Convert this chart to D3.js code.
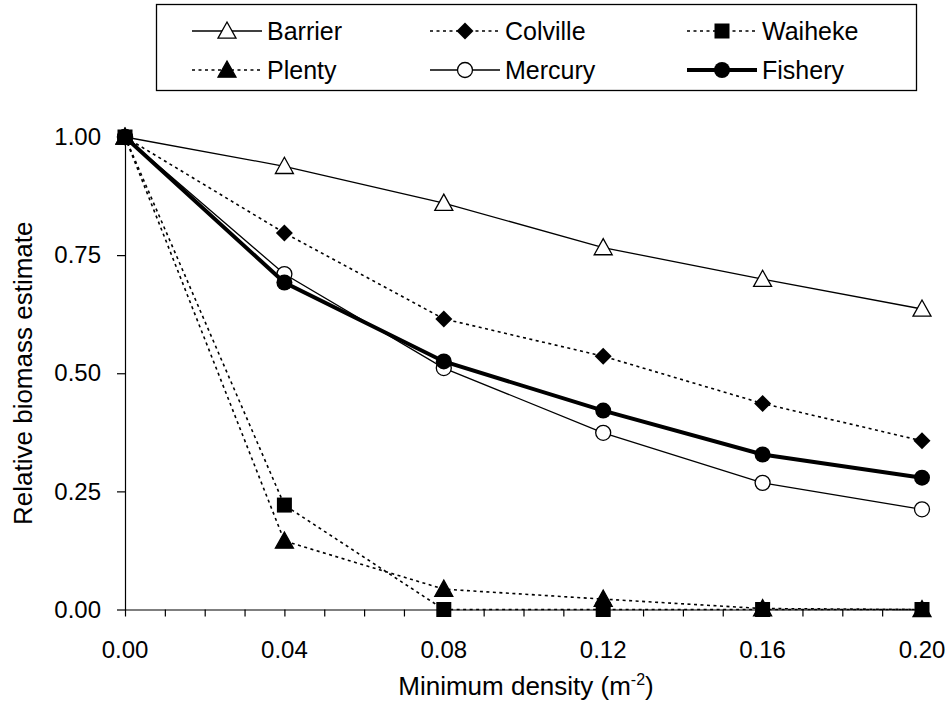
<!DOCTYPE html>
<html lang="en">
<head>
<meta charset="UTF-8">
<title>Relative biomass estimate vs minimum density</title>
<script src="https://d3js.org/d3.v7.min.js"></script>
<style>
  body { margin: 0; background: #fff; font-family: "Liberation Sans", Arial, sans-serif; }
  svg text { font-family: "Liberation Sans", Arial, sans-serif; fill: #000; }
</style>
</head>
<body>
<div id="chart"></div>
<script>
  const densities = [0.00, 0.04, 0.08, 0.12, 0.16, 0.20];
  const barrier  = [1.00, 0.938, 0.860, 0.766, 0.699, 0.636];
  const colville = [1.00, 0.797, 0.615, 0.536, 0.436, 0.357];
  const waiheke  = [1.00, 0.221, 0.000, 0.000, 0.000, 0.000];
  const plenty   = [1.00, 0.145, 0.043, 0.022, 0.002, 0.000];
  const mercury  = [1.00, 0.710, 0.511, 0.374, 0.268, 0.212];
  const fishery  = [1.00, 0.692, 0.525, 0.421, 0.328, 0.279];
  const yTicks = [0, 0.25, 0.5, 0.75, 1];
  const xTicks = [0, 0.04, 0.08, 0.12, 0.16, 0.20];

  const width = 952, height = 706;
  const x = d3.scaleLinear().domain([0, 0.2]).range([125, 922]);
  const y = d3.scaleLinear().domain([0, 1]).range([609.5, 137]);

  const svg = d3.select("#chart").append("svg")
    .attr("width", width).attr("height", height);

  // series: name, values, line style, marker
  const series = [
    { name: "Barrier",  values: barrier,  width: 1.3, dash: null,    marker: "triOpen" },
    { name: "Colville", values: colville, width: 1.6, dash: "3,3.5", marker: "diamond" },
    { name: "Mercury",  values: mercury,  width: 1.3, dash: null,    marker: "circOpen" },
    { name: "Fishery",  values: fishery,  width: 4,   dash: null,    marker: "circFill" },
    { name: "Plenty",   values: plenty,   width: 1.6, dash: "3,3.5", marker: "triFill" },
    { name: "Waiheke",  values: waiheke,  width: 1.6, dash: "3,3.5", marker: "square" }
  ];

  function drawMarker(g, type, cx, cy) {
    if (type === "triOpen" || type === "triFill") {
      const s = 9;
      g.append("path")
        .attr("d", `M${cx},${cy - s}L${cx + s},${cy + s * 0.8}L${cx - s},${cy + s * 0.8}Z`)
        .attr("fill", type === "triOpen" ? "#fff" : "#000")
        .attr("stroke", "#000").attr("stroke-width", 1.3);
    } else if (type === "diamond") {
      const s = 8.5;
      g.append("path")
        .attr("d", `M${cx},${cy - s}L${cx + s},${cy}L${cx},${cy + s}L${cx - s},${cy}Z`)
        .attr("fill", "#000");
    } else if (type === "square") {
      g.append("rect").attr("x", cx - 7.5).attr("y", cy - 7.5)
        .attr("width", 15).attr("height", 15).attr("fill", "#000");
    } else if (type === "circOpen") {
      g.append("circle").attr("cx", cx).attr("cy", cy).attr("r", 7.5)
        .attr("fill", "#fff").attr("stroke", "#000").attr("stroke-width", 1.3);
    } else if (type === "circFill") {
      g.append("circle").attr("cx", cx).attr("cy", cy).attr("r", 8)
        .attr("fill", "#000");
    }
  }

  // axes
  const yAxis = d3.axisLeft(y).tickValues(yTicks).tickFormat(d3.format(".2f"))
    .tickSizeInner(8).tickSizeOuter(0).tickPadding(16);
  const gy = svg.append("g").attr("transform", `translate(${x(0)},0)`).call(yAxis);

  const xAxis = d3.axisBottom(x).tickValues(d3.range(0, 21).map(i => i / 100))
    .tickFormat("").tickSizeInner(7).tickSizeOuter(0);
  const gx = svg.append("g").attr("transform", `translate(0,${y(0)})`).call(xAxis);

  svg.append("g").selectAll("text").data(xTicks).join("text")
    .attr("x", d => x(d)).attr("y", y(0) + 48)
    .attr("text-anchor", "middle").attr("font-size", 24)
    .text(d => d3.format(".2f")(d));

  [gx, gy].forEach(g => {
    g.selectAll("path, line").attr("stroke", "#000").attr("stroke-width", 1.2);
    g.selectAll("text").attr("font-size", 24).attr("fill", "#000")
      .style("font-family", "'Liberation Sans', Arial, sans-serif");
  });

  // axis titles
  svg.append("text")
    .attr("transform", `translate(32,${(y(0) + y(1)) / 2}) rotate(-90)`)
    .attr("text-anchor", "middle").attr("font-size", 26)
    .text("Relative biomass estimate");

  const xt = svg.append("text").attr("x", 526).attr("y", 695)
    .attr("text-anchor", "middle").attr("font-size", 26);
  xt.append("tspan").text("Minimum density (m");
  xt.append("tspan").attr("dy", -10).attr("font-size", 16).text("-2");
  xt.append("tspan").attr("dy", 10).text(")");

  // lines and markers
  const line = d3.line().x((d, i) => x(densities[i])).y(d => y(d));
  series.forEach(s => {
    const g = svg.append("g");
    g.append("path").datum(s.values).attr("d", line)
      .attr("fill", "none").attr("stroke", "#000")
      .attr("stroke-width", s.width)
      .attr("stroke-dasharray", s.dash);
    s.values.forEach((v, i) => drawMarker(g, s.marker, x(densities[i]), y(v)));
  });

  // legend
  const legendOrder = ["Barrier", "Colville", "Waiheke", "Plenty", "Mercury", "Fishery"];
  const colX = [192, 430, 687];
  const rowY = [31, 70];
  const lg = svg.append("g");
  lg.append("rect").attr("x", 156.5).attr("y", 4.5).attr("width", 760).attr("height", 86)
    .attr("fill", "#fff").attr("stroke", "#000").attr("stroke-width", 1.3);
  legendOrder.forEach((name, k) => {
    const s = series.find(d => d.name === name);
    const lx = colX[k % 3], ly = rowY[Math.floor(k / 3)];
    const g = lg.append("g");
    g.append("line").attr("x1", lx).attr("x2", lx + 70).attr("y1", ly).attr("y2", ly)
      .attr("stroke", "#000").attr("stroke-width", s.width)
      .attr("stroke-dasharray", s.dash);
    drawMarker(g, s.marker, lx + 35, ly);
    g.append("text").attr("x", lx + 75).attr("y", ly + 9).attr("font-size", 25).text(name);
  });
</script>
</body>
</html>
